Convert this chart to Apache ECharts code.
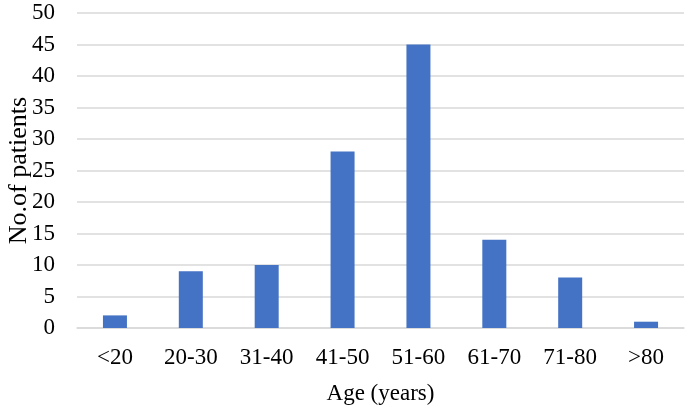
<!DOCTYPE html>
<html><head><meta charset="utf-8">
<script src="https://cdn.jsdelivr.net/npm/echarts@6/dist/echarts.min.js"></script>
<style>html,body{margin:0;padding:0;background:#fff}#c{width:685px;height:407px}</style>
</head><body><div id="c"></div>
<script>
const categories = ['<20','20-30','31-40','41-50','51-60','61-70','71-80','>80'];
const patients = [2, 9, 10, 28, 45, 14, 8, 1];
const yTicks = {min: 0, max: 50, interval: 5};
const font = '"Liberation Serif", "Times New Roman", serif';
const chart = echarts.init(document.getElementById('c'));
chart.setOption({
  animation: false,
  grid: {left: 77, right: 1, top: 13, bottom: 79, containLabel: false, outerBoundsMode: 'none'},
  xAxis: {
    type: 'category', data: categories,
    name: 'Age (years)', nameLocation: 'middle', nameGap: 54, nameMoveOverlap: false,
    nameTextStyle: {fontFamily: font, fontSize: 23, color: '#000'},
    axisLine: {lineStyle: {color: '#d9d9d9', width: 1.5}},
    axisTick: {show: false},
    axisLabel: {fontFamily: font, fontSize: 23, color: '#000', margin: 18}
  },
  yAxis: {
    type: 'value', min: yTicks.min, max: yTicks.max, interval: yTicks.interval,
    name: 'No.of patients', nameLocation: 'middle', nameGap: 45, nameRotate: 90, nameMoveOverlap: false,
    nameTextStyle: {fontFamily: font, fontSize: 26, color: '#000'},
    axisLine: {show: false}, axisTick: {show: false},
    splitLine: {lineStyle: {color: '#d9d9d9', width: 1.5}},
    axisLabel: {fontFamily: font, fontSize: 23, color: '#000', margin: 22}
  },
  series: [{
    type: 'bar', data: patients, barWidth: 24,
    itemStyle: {color: '#4472c4'}
  }]
});
</script></body></html>
